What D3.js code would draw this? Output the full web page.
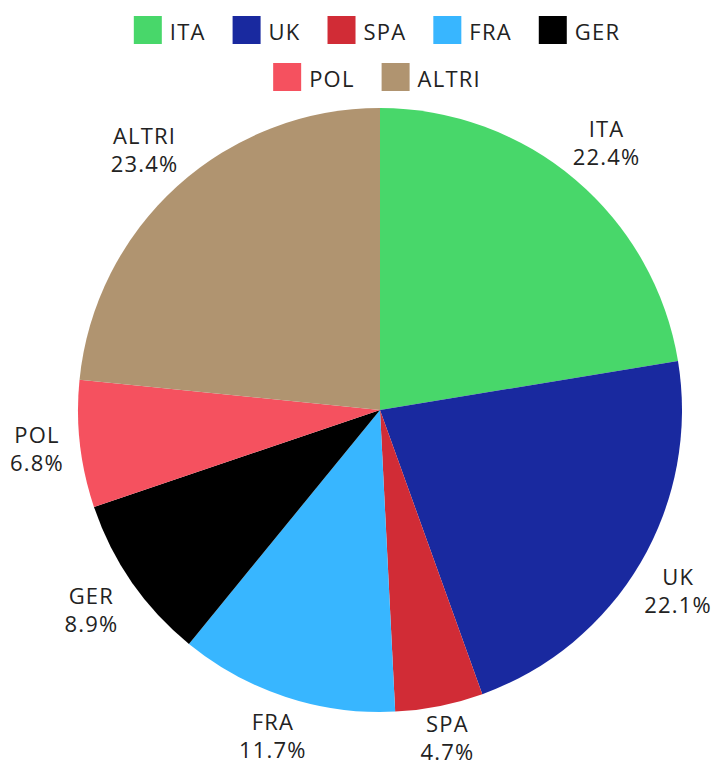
<!DOCTYPE html>
<html>
<head>
<meta charset="utf-8">
<script src="https://cdn.jsdelivr.net/npm/d3@7"></script>
<style>
  body { margin: 0; background: #fff; overflow: hidden; }
  text { font-family: "Open Sans", sans-serif; fill: #222; letter-spacing: 1.2px; }
</style>
</head>
<body>
<div id="chart"></div>
<script>
const FRAME_WIDTH = 713;
const FRAME_HEIGHT = 767;

const CENTER = {x: 380, y: 410};
const RADIUS = 302;
const LABEL_OFFSET = 14;   // gap between pie edge and label box
const LABEL_HALF_H = 26;   // half height of a two-line label box
const FONT_SIZE = 22;

// data
const COUNTRIES = ["ITA", "UK", "SPA", "FRA", "GER", "POL", "ALTRI"];
const SHARES = [22.4, 22.1, 4.7, 11.7, 8.9, 6.8, 23.4];
const COLORS = ["#48d76a", "#19299f", "#d12c36", "#38b6ff", "#000000", "#f5515f", "#b09470"];

const COLOR_SCALE = d3.scaleOrdinal()
    .domain(COUNTRIES)
    .range(COLORS);

const FRAME = d3.select("#chart")
    .append("svg")
      .attr("width", FRAME_WIDTH)
      .attr("height", FRAME_HEIGHT);

const slices = COUNTRIES.map((c, i) => ({name: c, value: SHARES[i]}));

const pie = d3.pie()
    .sort(null)
    .value(d => d.value);

const arc = d3.arc()
    .innerRadius(0)
    .outerRadius(RADIUS);

const arcs = pie(slices);

const PIE = FRAME.append("g")
    .attr("transform", "translate(" + CENTER.x + "," + CENTER.y + ")");

// slices
PIE.selectAll("path")
    .data(arcs)
    .enter()
    .append("path")
      .attr("d", arc)
      .attr("fill", d => COLOR_SCALE(d.data.name));

// outside labels, two lines each
let labels = PIE.selectAll("text.label")
    .data(arcs)
    .enter()
    .append("text")
      .attr("class", "label")
      .attr("text-anchor", "middle")
      .attr("font-size", FONT_SIZE);

labels.append("tspan")
    .attr("x", 0)
    .attr("y", -6)
    .text(d => d.data.name);

labels.append("tspan")
    .attr("x", 0)
    .attr("y", 22)
    .text(d => d.data.value.toFixed(1) + "%");

// push each label box out along its mid angle until its edge clears the pie,
// then keep it inside the frame
labels.attr("transform", function(d) {
    let a = (d.startAngle + d.endAngle) / 2;
    let vx = Math.sin(a), vy = -Math.cos(a);
    let box = this.getBBox();
    let hw = box.width / 2 + 2;
    let t = Math.min(hw / Math.max(Math.abs(vx), 1e-6), LABEL_HALF_H / Math.max(Math.abs(vy), 1e-6));
    let dist = RADIUS + LABEL_OFFSET + t;
    let x = vx * dist, y = vy * dist;
    let right = CENTER.x + x + box.x + box.width;
    if (right > FRAME_WIDTH - 1) x -= right - (FRAME_WIDTH - 1);
    let left = CENTER.x + x + box.x;
    if (left < 1) x += 1 - left;
    let bottom = CENTER.y + y + box.y + box.height;
    if (bottom > FRAME_HEIGHT - 1) y -= bottom - (FRAME_HEIGHT - 1);
    return "translate(" + x + "," + y + ")";
});

// legend
const BOX = 28;
const BOX_GAP = 8;
const ITEM_GAP = 27;
const ROW_MAX = 540;
const ROW_Y = [30, 77];
const LEGEND_CENTER = 377;

const LEGEND = FRAME.append("g");

let items = COUNTRIES.map((c) => {
    let g = LEGEND.append("g");
    g.append("rect")
        .attr("width", BOX)
        .attr("height", BOX)
        .attr("y", -BOX / 2)
        .attr("fill", COLOR_SCALE(c));
    let t = g.append("text")
        .attr("x", BOX + BOX_GAP)
        .attr("y", 1)
        .attr("dominant-baseline", "central")
        .attr("font-size", FONT_SIZE)
        .text(c);
    return {g: g, w: BOX + BOX_GAP + t.node().getComputedTextLength()};
});

// wrap into rows
let rows = [[]];
let rowW = 0;
items.forEach((it) => {
    let add = (rows[rows.length - 1].length ? ITEM_GAP : 0) + it.w;
    if (rowW + add > ROW_MAX && rows[rows.length - 1].length) {
        rows.push([]);
        rowW = 0;
        add = it.w;
    }
    rows[rows.length - 1].push(it);
    rowW += add;
});

rows.forEach((row, r) => {
    let total = d3.sum(row, d => d.w) + ITEM_GAP * (row.length - 1);
    let x = LEGEND_CENTER - total / 2;
    row.forEach((it) => {
        it.g.attr("transform", "translate(" + x + "," + ROW_Y[r] + ")");
        x += it.w + ITEM_GAP;
    });
});
</script>
</body>
</html>
